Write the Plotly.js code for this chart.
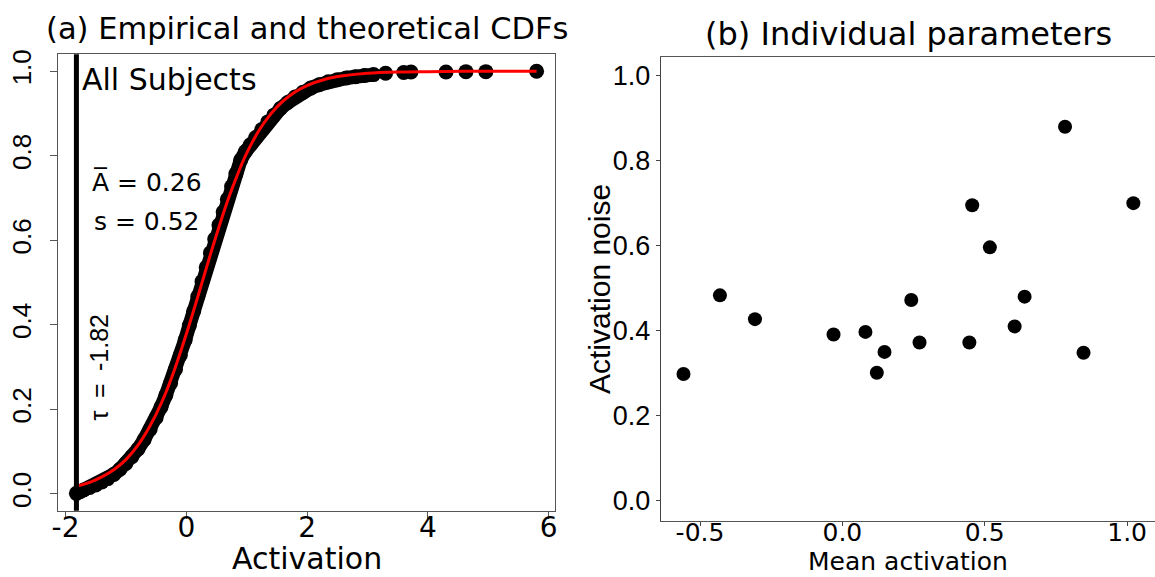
<!DOCTYPE html>
<html>
<head>
<meta charset="utf-8">
<script src="https://cdn.plot.ly/plotly-3.0.1.min.js"></script>
<style>html,body{margin:0;padding:0;background:#fff;}#chart{width:1155px;height:577px;}</style>
</head>
<body>
<div id="chart"></div>
<script>
// ---------- Panel (a): empirical and theoretical CDFs ----------
const tauValue = -1.82;
const meanActivation = 0.26;
const sValue = 0.52;

// empirical CDF points
const ecdfX = [-1.82, -1.76, -1.7, -1.6, -1.5, -1.4, -1.3, -1.2, -1.1, -1.0, -0.9, -0.8, -0.7, -0.6, -0.5,
  -0.42, -0.34, -0.26, -0.18, -0.1, -0.02, 0.05, 0.12, 0.19, 0.26, 0.33, 0.40, 0.47, 0.54, 0.61, 0.68,
  0.75, 0.82, 0.90, 0.98, 1.06, 1.15, 1.25, 1.35, 1.45, 1.56, 1.68, 1.80, 1.93, 2.06, 2.2, 2.35, 2.5,
  2.65, 2.8, 2.95, 3.1, 3.3, 3.6, 3.72, 4.30, 4.63, 4.96, 5.80];
const ecdfY = [0.001, 0.005, 0.009, 0.015, 0.021, 0.028, 0.036, 0.046, 0.058, 0.072, 0.088, 0.106, 0.128, 0.152, 0.180,
  0.205, 0.233, 0.262, 0.294, 0.328, 0.364, 0.398, 0.432, 0.467, 0.502, 0.536, 0.570, 0.603, 0.636, 0.667, 0.697,
  0.727, 0.757, 0.790, 0.810, 0.826, 0.843, 0.862, 0.880, 0.896, 0.912, 0.926, 0.939, 0.950, 0.960, 0.968, 0.975, 0.980,
  0.984, 0.987, 0.990, 0.992, 0.995, 0.997, 0.998, 0.998, 0.999, 0.999, 1.000];

// theoretical CDF (red curve)
const theoX = [-1.82, -1.6, -1.4, -1.2, -1.0, -0.8, -0.6, -0.4, -0.2, 0.0, 0.1, 0.2, 0.3, 0.4, 0.5, 0.6, 0.7, 0.8,
  0.9, 1.0, 1.2, 1.4, 1.6, 1.8, 2.0, 2.3, 2.6, 3.0, 3.5, 4.0, 5.0, 5.8];
const theoY = [0.018, 0.027, 0.040, 0.057, 0.081, 0.115, 0.161, 0.219, 0.292, 0.378, 0.424, 0.471, 0.519, 0.567, 0.613,
  0.658, 0.700, 0.738, 0.774, 0.806, 0.859, 0.899, 0.929, 0.951, 0.966, 0.981, 0.989, 0.995, 0.998, 0.999, 1.0, 1.0];

const xTicksA = [-2, 0, 2, 4, 6];
const yTicksA = [0, 0.2, 0.4, 0.6, 0.8, 1.0];
const yTickTextA = ['0.0', '0.2', '0.4', '0.6', '0.8', '1.0'];

// ---------- Panel (b): individual parameters ----------
const meanAct = [-0.558, -0.430, -0.307, -0.031, 0.081, 0.121, 0.148, 0.242, 0.271, 0.446, 0.456, 0.518, 0.605, 0.640, 0.782, 0.847, 1.022];
const actNoise = [0.298, 0.483, 0.427, 0.391, 0.397, 0.301, 0.350, 0.472, 0.372, 0.372, 0.695, 0.596, 0.410, 0.480, 0.880, 0.348, 0.700];

const xTicksB = [-0.5, 0.0, 0.5, 1.0];
const xTickTextB = ['-0.5', '0.0', '0.5', '1.0'];
const yTicksB = [0, 0.2, 0.4, 0.6, 0.8, 1.0];
const yTickTextB = ['0.0', '0.2', '0.4', '0.6', '0.8', '1.0'];

const W = 1155, H = 577;
const WIDE = 'DejaVu Sans, Liberation Sans, Arial, sans-serif';
const ARIAL = 'Liberation Sans, Arial, sans-serif';
const rangeXA = [-2.125, 6.105], rangeYA = [-0.04, 1.04];
const rangeXB = [-0.637, 1.098], rangeYB = [-0.048, 1.044];

// dense part of the empirical CDF (joined so the band is continuous)
const denseIdx = ecdfX.map((v, i) => i).filter(i => ecdfX[i] <= 3.1);

const px = v => v / W;
const py = v => 1 - v / H;

const traces = [
  {x: denseIdx.map(i => ecdfX[i]), y: denseIdx.map(i => ecdfY[i]), type: 'scatter', mode: 'lines',
   line: {color: '#000', width: 14}, xaxis: 'x', yaxis: 'y', hoverinfo: 'skip'},
  {x: ecdfX, y: ecdfY, type: 'scatter', mode: 'markers',
   marker: {color: '#000', size: 15}, xaxis: 'x', yaxis: 'y', name: 'Empirical'},
  {x: theoX, y: theoY, type: 'scatter', mode: 'lines',
   line: {color: '#ff0000', width: 3, shape: 'spline'}, xaxis: 'x', yaxis: 'y', name: 'Theoretical'},
  // invisible copy used only so the label axes of panel (a) are drawn
  {x: theoX, y: theoY, type: 'scatter', mode: 'markers', marker: {size: 1, opacity: 0},
   xaxis: 'x3', yaxis: 'y3', hoverinfo: 'skip'},
  {x: meanAct, y: actNoise, type: 'scatter', mode: 'markers',
   marker: {color: '#000', size: 14}, xaxis: 'x2', yaxis: 'y2', name: 'Subjects'},
  // invisible copy used only so the label axis of panel (b) is drawn
  {x: meanAct, y: actNoise, type: 'scatter', mode: 'markers', marker: {size: 1, opacity: 0},
   xaxis: 'x4', yaxis: 'y2', hoverinfo: 'skip'}
];

const layout = {
  width: W, height: H,
  margin: {l: 0, r: 0, t: 0, b: 0},
  paper_bgcolor: '#fff', plot_bgcolor: '#fff',
  showlegend: false,
  // panel (a): ticks + frame
  xaxis: {
    domain: [px(58), px(555)], range: rangeXA, anchor: 'y',
    tickmode: 'array', tickvals: xTicksA, showticklabels: false,
    ticks: 'outside', ticklen: 7, tickcolor: '#555', tickwidth: 1,
    showline: true, mirror: true, linecolor: '#555', linewidth: 1,
    showgrid: false, zeroline: false
  },
  yaxis: {
    domain: [py(510.7), py(54.3)], range: rangeYA, anchor: 'x',
    tickmode: 'array', tickvals: yTicksA, showticklabels: false,
    ticks: 'outside', ticklen: 7, tickcolor: '#555', tickwidth: 1,
    showline: true, mirror: true, linecolor: '#555', linewidth: 1,
    showgrid: false, zeroline: false
  },
  // panel (a): tick labels
  xaxis3: {
    overlaying: 'x', anchor: 'free', position: py(507.7), range: rangeXA,
    tickmode: 'array', tickvals: xTicksA, ticktext: xTicksA.map(String),
    ticks: '', showline: false, showgrid: false, zeroline: false,
    tickfont: {family: WIDE, size: 28, color: '#000'}
  },
  yaxis3: {
    overlaying: 'y', anchor: 'free', position: px(36), range: rangeYA,
    tickmode: 'array', tickvals: yTicksA, ticktext: yTickTextA, tickangle: -90,
    ticks: '', showline: false, showgrid: false, zeroline: false,
    tickfont: {family: ARIAL, size: 26, color: '#000'}
  },
  // panel (b)
  xaxis2: {
    domain: [px(661), 1], range: rangeXB, anchor: 'y2',
    tickmode: 'array', tickvals: xTicksB, showticklabels: false,
    ticks: 'outside', ticklen: 4, tickcolor: '#444', tickwidth: 1,
    showline: true, mirror: true, linecolor: '#555', linewidth: 1.2,
    showgrid: false, zeroline: false
  },
  xaxis4: {
    overlaying: 'x2', anchor: 'free', position: py(514.7), range: rangeXB,
    tickmode: 'array', tickvals: xTicksB, ticktext: xTickTextB,
    ticks: '', showline: false, showgrid: false, zeroline: false,
    tickfont: {family: WIDE, size: 25, color: '#000'}
  },
  yaxis2: {
    domain: [py(521), py(57)], range: rangeYB, anchor: 'x2',
    tickmode: 'array', tickvals: yTicksB, ticktext: yTickTextB,
    ticks: 'outside', ticklen: 4, tickcolor: '#444', tickwidth: 1,
    showline: true, mirror: false, linecolor: '#444', linewidth: 1.2,
    showgrid: false, zeroline: false,
    tickfont: {family: ARIAL, size: 27, color: '#000'}
  },
  shapes: [
    {type: 'line', xref: 'x', yref: 'y domain', x0: tauValue, x1: tauValue, y0: 0, y1: 1,
     line: {color: '#000', width: 5}, layer: 'above'}
  ],
  annotations: [
    {text: '(a) Empirical and theoretical CDFs', xref: 'paper', yref: 'paper', x: px(306.5), y: py(28),
     xanchor: 'center', yanchor: 'middle', showarrow: false, font: {family: WIDE, size: 30.5, color: '#000'}},
    {text: '(b) Individual parameters', xref: 'paper', yref: 'paper', x: px(908), y: py(34),
     xanchor: 'center', yanchor: 'middle', showarrow: false, font: {family: WIDE, size: 32, color: '#000'}},
    {text: 'Activation', xref: 'paper', yref: 'paper', x: px(306.5), y: py(558),
     xanchor: 'center', yanchor: 'middle', showarrow: false, font: {family: WIDE, size: 30, color: '#000'}},
    {text: 'Mean activation', xref: 'paper', yref: 'paper', x: px(908), y: py(561),
     xanchor: 'center', yanchor: 'middle', showarrow: false, font: {family: WIDE, size: 25, color: '#000'}},
    {text: 'Activation noise', xref: 'paper', yref: 'paper', x: px(599), y: py(289), textangle: -90,
     xanchor: 'center', yanchor: 'middle', showarrow: false, font: {family: ARIAL, size: 30, color: '#000'}},
    {text: 'All Subjects', xref: 'paper', yref: 'paper', x: px(80), y: py(80),
     xanchor: 'left', yanchor: 'middle', showarrow: false, font: {family: WIDE, size: 30, color: '#000'}},
    {text: 'A\u0305 = ' + meanActivation.toFixed(2), xref: 'paper', yref: 'paper', x: px(90), y: py(182),
     xanchor: 'left', yanchor: 'middle', showarrow: false, font: {family: WIDE, size: 25, color: '#000'}},
    {text: 's = ' + sValue.toFixed(2), xref: 'paper', yref: 'paper', x: px(92), y: py(222),
     xanchor: 'left', yanchor: 'middle', showarrow: false, font: {family: WIDE, size: 25, color: '#000'}},
    {text: '\u03C4\u2002=\u2002' + tauValue.toFixed(2), xref: 'paper', yref: 'paper', x: px(98), y: py(367.5),
     xanchor: 'center', yanchor: 'middle', textangle: -90, showarrow: false, font: {family: ARIAL, size: 25, color: '#000'}}
  ]
};

Plotly.newPlot('chart', traces, layout, {staticPlot: true, displayModeBar: false});
</script>
</body>
</html>
